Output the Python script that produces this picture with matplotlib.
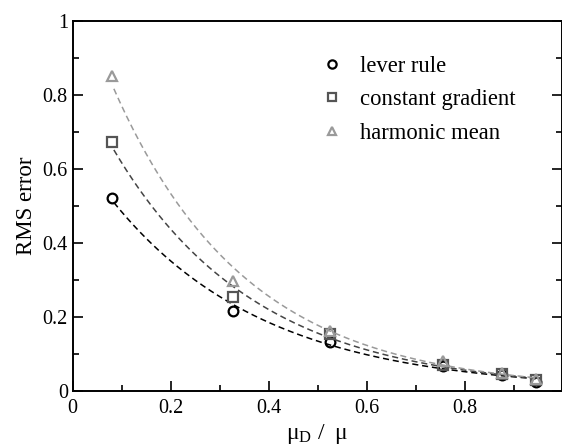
import numpy as np
import matplotlib
matplotlib.use("Agg")
import matplotlib.pyplot as plt
from matplotlib.ticker import MultipleLocator, FuncFormatter

plt.rcParams['font.family'] = ['Liberation Serif', 'DejaVu Serif']
plt.rcParams['mathtext.fontset'] = 'custom'
plt.rcParams['mathtext.rm'] = 'Liberation Serif'
plt.rcParams['mathtext.it'] = 'Liberation Serif:italic'

# viscosity ratio mu_D / mu
ratio = [0.080, 0.327, 0.526, 0.755, 0.876, 0.945]
lever_rule = [0.522, 0.214, 0.131, 0.067, 0.041, 0.024]
constant_gradient = [0.672, 0.253, 0.153, 0.070, 0.045, 0.028]
harmonic_mean = [0.850, 0.295, 0.162, 0.081, 0.047, 0.031]

labels = ["lever rule", "constant gradient", "harmonic mean"]
series = [lever_rule, constant_gradient, harmonic_mean]
markers = ["o", "s", "^"]
mcolors = ["black", "#555555", "#9a9a9a"]
lcolors = ["black", "#444444", "#9a9a9a"]

fig = plt.figure(figsize=(5.62, 4.46), dpi=100)
ax = fig.add_axes([0.1294, 0.1244, 0.870, 0.829])

x = np.asarray(ratio)
xf = np.linspace(x.min() + 0.004, x.max(), 200)
handles = []
for ys, m, mc, lc, lab in zip(series, markers, mcolors, lcolors, labels):
    ys = np.asarray(ys)
    # exponential fit through the points
    b, a = np.polyfit(x, np.log(ys), 1, w=np.sqrt(ys))
    ax.plot(xf, np.exp(a + b * xf), ls=(0, (4, 2.5)), color=lc, lw=1.1)
    h, = ax.plot(x, ys, ls='none', marker=m, ms=7, mfc='none', mec=mc,
                 mew=1.6, label=lab)
    handles.append(h)

ax.set_xlim(0, 0.998)
ax.set_ylim(0, 1)
ax.xaxis.set_major_locator(MultipleLocator(0.2))
ax.xaxis.set_minor_locator(MultipleLocator(0.1))
ax.yaxis.set_major_locator(MultipleLocator(0.2))
ax.yaxis.set_minor_locator(MultipleLocator(0.1))
fmt = FuncFormatter(lambda v, p: "%g" % round(v, 3))
ax.xaxis.set_major_formatter(fmt)
ax.yaxis.set_major_formatter(fmt)
ax.tick_params(which='both', direction='in', right=True, top=False,
               labelsize=14.5, width=1.2)
ax.tick_params(which='major', length=7)
ax.tick_params(which='minor', length=4)
ax.tick_params(axis='x', pad=6)
ax.tick_params(axis='y', pad=3.5)
for s in ax.spines.values():
    s.set_linewidth(1.4)

ax.set_ylabel("RMS error", fontsize=16.5, labelpad=4)
ax.set_xlabel(r"$\mathrm{\mu_D\ /\ \ \mu}$", fontsize=17, labelpad=3)

ax.legend(handles=handles, loc='upper left', bbox_to_anchor=(0.507, 0.905),
          frameon=False, fontsize=16.3, handletextpad=0.76, labelspacing=0.55,
          handlelength=1.0, borderaxespad=0, borderpad=0, markerscale=0.85)

fig.savefig("out.png", dpi=100)
